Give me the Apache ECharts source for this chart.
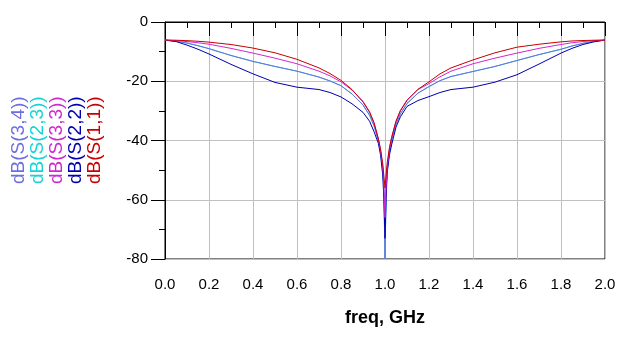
<!DOCTYPE html>
<html>
<head>
<meta charset="utf-8">
<script src="https://cdn.jsdelivr.net/npm/echarts@6/dist/echarts.min.js"></script>
<style>html,body{margin:0;padding:0;background:#fff;}#c{width:630px;height:340px;}</style>
</head>
<body>
<div id="c"></div>
<script>
var freq = [0, 0.05, 0.1, 0.15, 0.2, 0.3, 0.4, 0.5, 0.6, 0.7, 0.75, 0.8, 0.85, 0.9, 0.93, 0.95, 0.97, 0.98, 0.99, 0.995, 1.0, 1.005, 1.01, 1.02, 1.03, 1.05, 1.07, 1.1, 1.15, 1.2, 1.25, 1.3, 1.4, 1.5, 1.6, 1.7, 1.8, 1.85, 1.9, 1.95, 2.0];
var s11 = [-6.1, -6.15, -6.3, -6.5, -6.8, -7.6, -8.8, -10.4, -12.6, -15.5, -17.4, -19.7, -22.8, -27, -30.5, -34, -39.5, -43, -48, -52, -56, -51.5, -47.5, -42.5, -39, -33.5, -30, -26.5, -22.7, -20.2, -17.5, -15.5, -12.8, -10.4, -8.5, -7.5, -6.7, -6.4, -6.25, -6.15, -6.1];
var s33 = [-6.1, -6.3, -6.6, -7.0, -7.5, -8.9, -10.5, -12.2, -14.1, -16.6, -18.2, -20.2, -23, -26.8, -30.3, -34, -39.5, -43.5, -49, -55, -66, -55, -49, -43, -39, -33.5, -29.8, -26.3, -22.8, -20.8, -18.5, -16.6, -14.1, -12.2, -10.5, -8.9, -7.6, -7.0, -6.6, -6.3, -6.1];
var s34 = [-6.1, -6.5, -7.1, -8.0, -9.0, -11.3, -13.3, -15.0, -16.6, -18.6, -19.9, -21.5, -24.3, -28, -31.5, -35, -40, -44, -50, -57, -80, -57, -50, -44, -40, -34.5, -31, -27.5, -24, -21.8, -19.8, -18.4, -16.7, -15.0, -13.0, -11.0, -9.2, -8.1, -7.2, -6.5, -6.1];
var s23 = [-6.1, -6.5, -7.1, -8.0, -9.0, -11.3, -13.3, -15.0, -16.6, -18.6, -19.9, -21.5, -24.3, -28, -31.5, -35, -40, -44, -50, -57, -80, -57, -50, -44, -40, -34.5, -31, -27.5, -24, -21.8, -19.8, -18.4, -16.7, -15.0, -13.0, -11.0, -9.2, -8.1, -7.2, -6.5, -6.1];
var s22 = [-6.1, -6.6, -7.8, -9.2, -10.8, -14.3, -17.5, -20.4, -22.0, -22.8, -23.8, -25.3, -27.6, -30.5, -33.5, -37, -41, -45, -52, -60, -73, -60, -51, -45, -41.5, -35.5, -32, -28.5, -26.5, -25.2, -23.8, -22.8, -22.0, -20.3, -17.8, -14.2, -10.5, -8.9, -7.6, -6.7, -6.1];

var seriesNames = ['dB(S(3,4))', 'dB(S(2,3))', 'dB(S(3,3))', 'dB(S(2,2))', 'dB(S(1,1))'];
var seriesValues = [s34, s23, s33, s22, s11];
var seriesColors = ['#6e6ee0', '#18d4d4', '#d028d0', '#0000b0', '#c80000'];
var drawOrder = [1, 0, 3, 2, 4];
var legendX = [19, 38, 57, 76, 95];

var font = '"Liberation Sans", Arial, sans-serif';

function pairs(vals) {
  return freq.map(function (f, i) { return [f, vals[i]]; });
}

var series = drawOrder.map(function (k) {
  return {
    name: seriesNames[k],
    type: 'line',
    data: pairs(seriesValues[k]),
    showSymbol: false,
    symbol: 'none',
    smooth: false,
    lineStyle: { width: 1, color: seriesColors[k] },
    itemStyle: { color: seriesColors[k] },
    z: 3
  };
});

var graphics = seriesNames.map(function (n, k) {
  return {
    type: 'text',
    x: legendX[k],
    y: 184,
    rotation: Math.PI / 2,
    style: {
      text: n,
      fill: seriesColors[k],
      font: '19px ' + font,
      textAlign: 'left',
      textVerticalAlign: 'middle'
    }
  };
});

var chart = echarts.init(document.getElementById('c'), null, { renderer: 'canvas' });
chart.setOption({
  animation: false,
  backgroundColor: '#ffffff',
  grid: { left: 165, top: 22, width: 440, height: 237, show: true, borderColor: '#000', borderWidth: 1, backgroundColor: 'transparent' },
  xAxis: {
    type: 'value', min: 0, max: 2, interval: 0.2,
    name: 'freq, GHz', nameLocation: 'middle', nameGap: 50,
    nameTextStyle: { fontFamily: font, fontSize: 18, fontWeight: 'bold', color: '#000' },
    axisLine: { show: true, lineStyle: { color: '#000', width: 1 } },
    axisTick: { show: true, length: 14, lineStyle: { color: '#000' } },
    minorTick: { show: true, splitNumber: 2, length: 6, lineStyle: { color: '#000' } },
    axisLabel: { fontFamily: font, fontSize: 15, color: '#000', margin: 18, formatter: function (v) { return v.toFixed(1); } },
    splitLine: { show: true, lineStyle: { color: '#c0c0c0', width: 1 } }
  },
  yAxis: {
    type: 'value', min: -80, max: 0, interval: 20,
    axisLine: { show: true, lineStyle: { color: '#000', width: 1 } },
    axisTick: { show: true, length: 14, lineStyle: { color: '#000' } },
    minorTick: { show: true, splitNumber: 2, length: 6, lineStyle: { color: '#000' } },
    axisLabel: { fontFamily: font, fontSize: 15, color: '#000', margin: 17 },
    splitLine: { show: true, lineStyle: { color: '#c0c0c0', width: 1 } }
  },
  series: series,
  graphic: graphics
});
</script>
</body>
</html>
